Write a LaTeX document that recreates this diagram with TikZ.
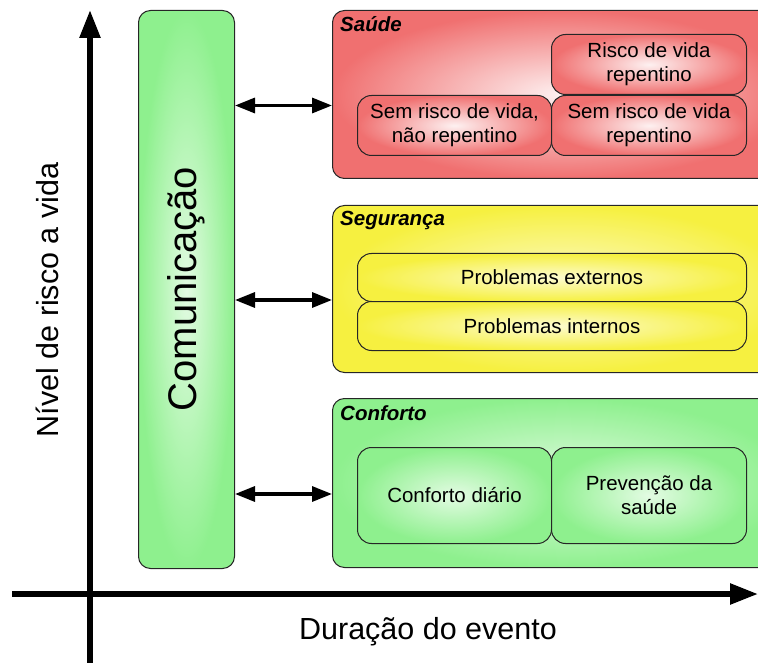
\documentclass[tikz,border=0pt]{standalone}
\usepackage{fontspec}
\setmainfont{Liberation Sans}
\usetikzlibrary{arrows.meta}
\definecolor{saudered}{RGB}{240,112,112}
\definecolor{segyellow}{RGB}{246,240,64}
\definecolor{confgreen}{RGB}{142,240,142}
\begin{document}
\begin{tikzpicture}[
        x=1pt, y=-1pt,
        bigbox/.style={rectangle, draw=black!85, line width=1pt, rounded corners=12pt, anchor=north west, inner sep=0pt},
        subbox/.style={rectangle, draw=black!85, line width=1pt, rounded corners=14pt, anchor=north west, align=center, inner sep=0pt, font=\fontsize{20.5}{24}\selectfont},
        boxtitle/.style={anchor=base west, inner sep=0pt, font=\fontsize{20.5}{24}\selectfont\bfseries\itshape},
        axislabel/.style={inner sep=0pt, font=\fontsize{30.5}{36}\selectfont},
        axis/.style={line width=5.5pt, -{Triangle[length=28pt, width=20pt]}},
        link/.style={line width=3.2pt, {Triangle[length=20pt, width=15pt]}-{Triangle[length=20pt, width=15pt]}},
        redglow/.style={shading=radial, inner color=saudered!10!white, outer color=saudered},
        yellowglow/.style={shading=radial, inner color=segyellow!25!white, outer color=segyellow},
        greenglow/.style={shading=radial, inner color=confgreen!25!white, outer color=confgreen}
    ]
        \useasboundingbox (0,0) rectangle (758,663);
        \clip (0,0) rectangle (758,663);

        % Comunicacao
        \node[bigbox, greenglow, minimum width=96pt, minimum height=558pt] (com) at (138,10) {};
        \node[rotate=90, inner sep=0pt, font=\fontsize{40}{48}\selectfont] (comtext) at (186,289) {Comunicação};

        % Saude
        \node[bigbox, redglow, minimum width=460pt, minimum height=168pt] (saude) at (332,10) {};
        \node[boxtitle] (saudetitle) at (340,32) {Saúde};
        \node[subbox, redglow, minimum width=195pt, minimum height=60pt] (riscorep) at (551,34) {Risco de vida\\repentino};
        \node[subbox, redglow, minimum width=194pt, minimum height=60pt] (semrisconrep) at (357,95) {Sem risco de vida,\\não repentino};
        \node[subbox, redglow, minimum width=195pt, minimum height=60pt] (semriscorep) at (551,95) {Sem risco de vida\\repentino};

        % Seguranca
        \node[bigbox, yellowglow, minimum width=460pt, minimum height=167pt] (seguranca) at (332,205) {};
        \node[boxtitle] (segtitle) at (340,226) {Segurança};
        \node[subbox, yellowglow, minimum width=389pt, minimum height=48pt] (externos) at (357,253) {Problemas externos};
        \node[subbox, yellowglow, minimum width=389pt, minimum height=49pt] (internos) at (357,301) {Problemas internos};

        % Conforto
        \node[bigbox, greenglow, minimum width=460pt, minimum height=169pt] (conforto) at (332,398) {};
        \node[boxtitle] (conftitle) at (340,420) {Conforto};
        \node[subbox, greenglow, minimum width=194pt, minimum height=96pt] (diario) at (357,447) {Conforto diário};
        \node[subbox, greenglow, minimum width=195pt, minimum height=96pt] (prevencao) at (551,447) {Prevenção da\\saúde};

        % Links
        \foreach \b in {saude,seguranca,conforto} {
            \coordinate (\b in) at ([yshift=-11pt]\b.west);
            \draw[link] (com.east |- \b in) -- (\b in);
        }

        % Axes
        \coordinate (yfoot) at (90,663);
        \coordinate (ytip) at (90,10);
        \coordinate (xfoot) at (12,594);
        \coordinate (xtip) at (758,594);
        \draw[axis] (yfoot) -- (ytip);
        \draw[axis] (xfoot) -- (xtip);
        \node[axislabel, rotate=90] (ylabel) at (47,300) {Nível de risco a vida};
        \node[axislabel] (xlabel) at (428,632) {Duração do evento};

\end{tikzpicture}
\end{document}
